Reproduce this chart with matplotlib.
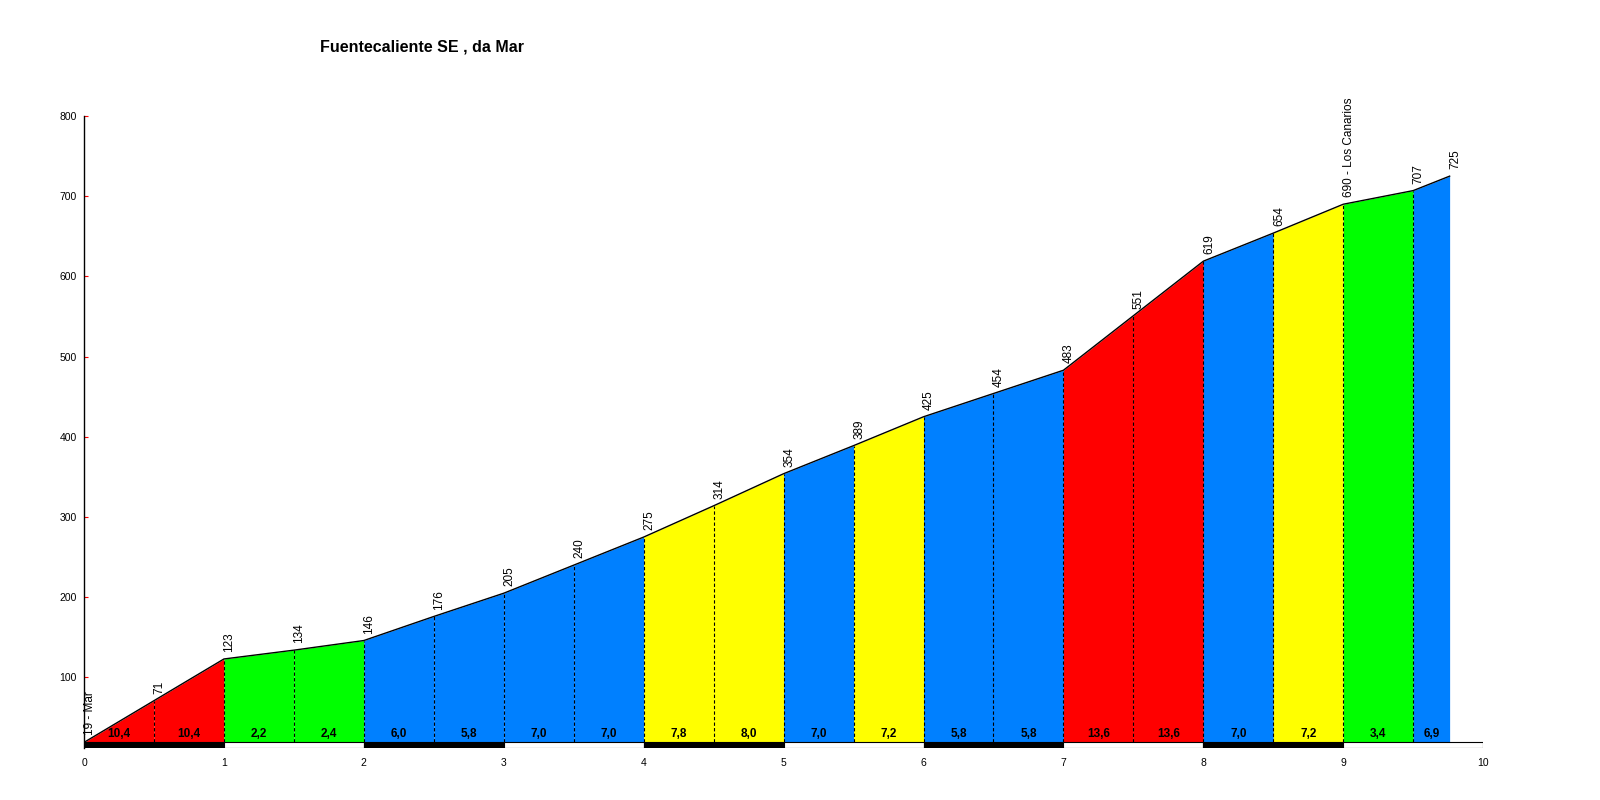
import matplotlib.pyplot as plt

plt.rcParams['font.family'] = ['Liberation Sans', 'DejaVu Sans']

# profilo altimetrico
km = [0, 0.5, 1, 1.5, 2, 2.5, 3, 3.5, 4, 4.5, 5, 5.5, 6, 6.5, 7, 7.5, 8, 8.5, 9, 9.5, 9.76]
quota = [19, 71, 123, 134, 146, 176, 205, 240, 275, 314, 354, 389, 425, 454, 483,
         551, 619, 654, 690, 707, 725]
etichette = ['19 - Mar', '71', '123', '134', '146', '176', '205', '240', '275', '314',
             '354', '389', '425', '454', '483', '551', '619', '654', '690 - Los Canarios',
             '707', '725']
pendenze = ['10,4', '10,4', '2,2', '2,4', '6,0', '5,8', '7,0', '7,0', '7,8', '8,0',
            '7,0', '7,2', '5,8', '5,8', '13,6', '13,6', '7,0', '7,2', '3,4', '6,9']

R, G, B, Y = '#ff0000', '#00ff00', '#0080ff', '#ffff00'
colori = [R, R, G, G, B, B, B, B, Y, Y, B, Y, B, B, R, R, B, Y, G, B]

base = 19
fondo = 12

fig = plt.figure(figsize=(16, 8), dpi=100)
ax = fig.add_axes([0.0525, 0.065, 0.8745, 0.79])

# Riempimento dei tratti colorati
for i in range(len(km) - 1):
    ax.fill_between(km[i:i + 2], quota[i:i + 2], base, color=colori[i], linewidth=0)
    xm = (km[i] + km[i + 1]) / 2
    ax.annotate(pendenze[i], (xm, base), xytext=(0, 1.5), textcoords='offset points',
                ha='center', va='bottom', fontsize=8.5, fontweight='bold')
    if i > 0:
        ax.plot([km[i], km[i]], [base, quota[i]], color='black', lw=0.8,
                linestyle=(0, (3, 2)))

ax.plot(km, quota, color='black', lw=1)

# Quote ruotate sopra i punti
for x, q, t in zip(km, quota, etichette):
    ax.annotate(t, (x, q), xytext=(4, 5), textcoords='offset points',
                rotation=90, ha='center', va='bottom', fontsize=8.5)

# Barra chilometrica bianca e nera
for k in range(10):
    c = 'black' if k % 2 == 0 else 'white'
    ax.add_patch(plt.Rectangle((k, fondo), 1, base - fondo, facecolor=c,
                               edgecolor='black', lw=0.8))

ax.set_xlim(0, 10)
ax.set_ylim(fondo, 800)
ax.set_xticks(range(11))
ax.set_yticks(range(100, 801, 100))
ax.tick_params(axis='x', length=0, labelsize=7.5, pad=7)
ax.tick_params(axis='y', direction='in', length=3, color='red', labelsize=7.5, pad=5)
for s in ['top', 'right', 'bottom']:
    ax.spines[s].set_visible(False)
ax.spines['left'].set_linewidth(1)

fig.text(0.2, 0.936, 'Fuentecaliente SE , da Mar', fontsize=11.5, fontweight='bold')

fig.savefig('out.png', dpi=100)
